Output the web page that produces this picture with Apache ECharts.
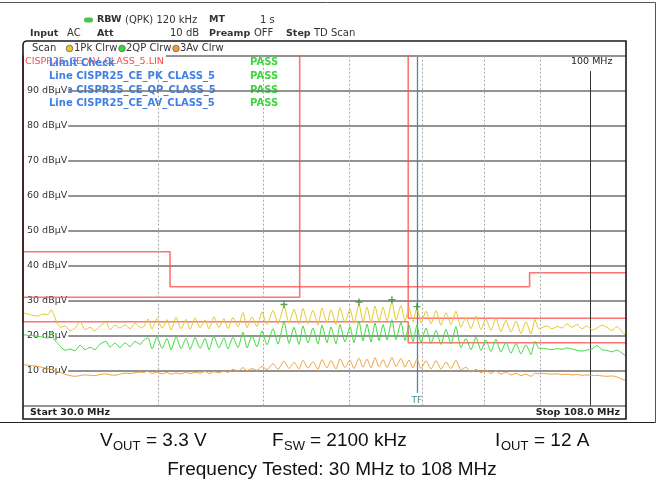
<!DOCTYPE html>
<html><head><meta charset="utf-8">
<script src="https://cdn.jsdelivr.net/npm/echarts@6/dist/echarts.min.js"></script>
<style>html,body{margin:0;padding:0;background:#fff}#c{width:660px;height:486px}</style>
</head><body><div id="c"></div>
<script>
// ---- data (MHz / dBµV) ----
const freqMHz = [30.00,30.32,30.64,30.97,31.30,31.64,31.84,32.04,32.25,32.52,32.80,33.15,33.51,33.87,34.23,34.59,34.95,35.33,35.78,36.09,36.47,36.86,37.26,37.66,38.06,38.47,
38.71,39.13,39.46,39.88,40.31,40.74,41.09,41.53,41.97,42.42,42.78,43.24,43.70,44.17,44.54,45.00,45.49,45.97,46.36,46.86,47.36,47.87,48.28,48.79,49.31,49.84,50.37,51.02,51.57,52.23,52.79,53.35,53.92,54.38,54.96,55.54,56.14,56.62,57.22,57.71,58.33,58.83,59.45,60.09,60.60,61.25,61.77,62.30,62.83,63.37,63.91,64.46,65.01,65.69,66.25,66.96,67.53,68.11,68.69,69.27,69.87,70.61,71.37,72.13,72.90,73.68,74.47,75.25,76.05,76.86,77.69,78.52,79.36,80.20,81.06,81.93,82.80,83.69,84.58,85.49,86.40,87.32,88.26,89.01,89.77,
90.54,91.31,92.29,93.27,94.27,95.27,96.29,97.31,98.36,99.41,100.47,101.54,102.63,103.72,104.83,105.95,107.09,108.00];
const pk1 = [26.5,26.2,25.8,25.6,26.2,26.0,27.4,26.0,23.6,22.4,22.8,21.4,22.2,24.1,21.7,22.4,21.4,22.7,23.9,21.7,23.0,22.2,23.1,22.0,23.6,22.4,
22.4,24.8,21.9,25.0,22.1,24.6,21.7,25.3,22.0,24.7,21.8,25.1,22.2,24.5,21.9,25.4,22.3,24.9,22.0,25.2,22.5,26.6,22.3,25.3,22.6,26.8,23.2,27.2,23.4,28.4,23.6,27.5,23.3,27.8,23.5,27.3,23.1,27.9,23.6,27.4,23.2,28.0,23.8,27.6,23.5,29.0,24.0,28.2,23.7,28.5,24.1,28.1,24.3,29.7,24.5,28.6,24.2,28.0,24.0,28.0,23.6,27.0,23.4,27.2,23.0,26.6,23.2,27.0,22.4,25.2,22.0,25.6,21.8,24.8,21.5,25.0,21.2,24.4,21.0,24.2,20.6,24.0,20.5,24.6,21.9,
22.4,22.8,22.0,22.6,22.2,23.4,22.4,23.2,22.0,22.8,21.6,22.2,23.0,22.4,21.5,22.6,21.2,20.0];
const qp2 = [20.3,20.1,20.0,19.8,19.6,19.3,21.3,19.0,18.0,16.8,15.8,16.2,15.7,17.3,16.0,16.7,16.0,17.6,18.4,16.7,17.9,16.6,18.0,16.9,18.4,17.5,
18.5,19.4,16.2,19.6,16.4,19.2,16.0,19.7,16.3,19.3,16.1,19.5,16.4,19.2,16.0,19.8,16.5,19.4,16.2,19.6,16.6,21.0,16.5,19.9,16.8,21.4,17.4,22.0,17.6,24.0,17.8,22.4,17.5,22.8,17.9,22.2,17.6,23.0,18.0,22.5,17.7,23.2,18.2,22.6,18.0,24.2,18.5,23.3,18.2,23.6,18.6,23.2,18.8,24.6,18.9,23.8,18.6,23.1,18.3,23.0,18.0,22.2,17.8,21.5,17.5,21.8,17.6,22.6,16.6,19.2,16.0,19.6,15.8,18.8,15.5,19.0,15.3,18.2,15.0,17.8,14.8,17.4,14.6,18.4,16.4,
16.4,16.2,16.0,16.3,16.1,16.5,16.2,15.8,15.6,15.9,16.2,17.2,16.0,15.8,15.4,15.9,15.0,14.1];
const av3 = [11.7,11.6,11.4,11.2,10.9,10.6,10.4,10.1,9.8,9.4,9.0,8.6,8.4,8.6,8.8,8.7,8.6,8.9,9.1,8.8,8.7,9.0,9.3,9.2,9.4,9.6,
9.5,9.8,9.2,9.6,9.1,9.5,9.0,9.4,9.1,9.6,9.2,9.5,9.3,9.8,9.2,9.7,9.4,9.9,9.5,10.4,9.8,10.9,10.0,10.6,10.1,11.2,10.3,12.0,10.4,12.8,10.6,12.4,10.5,13.0,10.7,12.6,10.4,13.2,10.8,12.9,10.5,13.4,10.9,13.0,10.6,13.6,11.0,13.3,10.8,13.7,11.1,13.2,10.9,13.8,11.2,13.5,11.0,13.1,10.8,13.3,10.6,12.8,10.5,12.9,10.4,12.5,10.6,13.0,10.2,11.0,9.6,10.4,9.4,10.2,9.2,9.9,9.0,9.6,8.8,9.2,8.6,9.0,8.4,9.3,9.1,
9.2,9.1,9.0,9.1,8.9,9.0,8.8,8.9,8.7,8.8,8.6,8.7,8.5,8.4,8.5,8.2,7.6,7.1];
// limit lines [MHz, dBµV]
const limitPk = [[30,100],[30,44],[41,44],[41,34],[88,34],[88,38],[108,38]];
const limitQpA = [[30,100],[30,31],[54,31],[54,100]];
const limitQpB = [[68,100],[68,25],[108,25]];
const limitAv = [[30,100],[30,24],[68,24],[68,18],[108,18]];
// peak markers
const markerFreq = [52.23, 61.25, 65.69, 69.27];
const markerLevel = [28.9, 29.6, 30.3, 28.3];
// frequency grid / markers
const gridFreqs = [40, 50, 60, 70, 80, 90];
const refFreq = 100;
const tfFreq = 69.27;
const yMin = 0, yMax = 100, yStep = 10;

const FONT = 'DejaVu Sans';
const chart = echarts.init(document.getElementById('c'), null, {renderer: 'canvas'});

function txt(text, x, y, opt) {
  opt = opt || {};
  return {
    type: 'text', z: opt.z || 1, silent: true,
    style: {
      text: text, x: x, y: y,
      font: (opt.bold ? 'bold ' : '') + (opt.size || 10) + 'px "' + (opt.family || FONT) + '"',
      fill: opt.color || '#333',
      align: opt.align || 'left', textAlign: opt.align || 'left',
      verticalAlign: 'middle', textVerticalAlign: 'middle',
      backgroundColor: opt.bg, padding: opt.pad
    }
  };
}

const limitStyle = {color: 'rgba(255,80,80,0.8)', width: 1.6};
function limitSeries(d) {
  return {type: 'line', data: d, symbol: 'none', z: 4, silent: true, lineStyle: limitStyle, animation: false};
}
function trace(vals, color) {
  return {type: 'line', data: freqMHz.map((f, i) => [f, vals[i]]), symbol: 'none', z: 5, silent: true,
          smooth: 0.2, lineStyle: {color: color, width: 1}, animation: false};
}

const BLUE = '#3f7fe6', PASS = '#3ad83a', RED = '#ff4848';

const graphics = [
  // outer frame
  {type: 'line', shape: {x1: 0, y1: 2.5, x2: 655.5, y2: 2.5}, style: {stroke: '#555', lineWidth: 1}, z: 1},
  {type: 'line', shape: {x1: 655.5, y1: 2.5, x2: 655.5, y2: 422.5}, style: {stroke: '#555', lineWidth: 1}, z: 1},
  {type: 'line', shape: {x1: 0, y1: 422.5, x2: 655.5, y2: 422.5}, style: {stroke: '#222', lineWidth: 1.2}, z: 1},
  // header
  {type: 'rect', shape: {x: 84, y: 17.5, width: 9, height: 5, r: 2.5}, style: {fill: '#4cc04c'}, z: 1},
  txt('RBW', 97, 20, {bold: true, size: 9.5}), txt('(QPK) 120 kHz', 125, 20),
  txt('MT', 209, 20, {bold: true, size: 9.5}), txt('1 s', 260, 20),
  txt('Input', 30, 33.5, {bold: true, size: 9.5}), txt('AC', 67, 33.5),
  txt('Att', 97, 33.5, {bold: true, size: 9.5}), txt('10 dB', 170, 33.5),
  txt('Preamp', 209, 33.5, {bold: true, size: 9.5}), txt('OFF', 254, 33.5),
  txt('Step', 286, 33.5, {bold: true, size: 9.5}), txt('TD Scan', 314, 33.5),
  // scan row
  txt('Scan', 32, 48.5),
  {type: 'circle', shape: {cx: 69.5, cy: 48.5, r: 3.3}, style: {fill: '#e8c42a', stroke: '#666', lineWidth: 0.8}, z: 1},
  txt('1Pk Clrw', 74, 48.5),
  {type: 'circle', shape: {cx: 122, cy: 48.5, r: 3.3}, style: {fill: '#3ed43e', stroke: '#666', lineWidth: 0.8}, z: 1},
  txt('2QP Clrw', 126, 48.5),
  {type: 'circle', shape: {cx: 176, cy: 48.5, r: 3.3}, style: {fill: '#f09a30', stroke: '#666', lineWidth: 0.8}, z: 1},
  txt('3Av Clrw', 180, 48.5),
  // limit check block
  txt('CISPR25_CE_AV_CLASS_5.LIN', 24, 62, {color: RED, size: 9.5, z: 6, bg: '#fff', pad: [2, 2, 2, 1]}),
  txt('Limit Check', 49, 63, {color: BLUE, bold: true, z: 7}),
  txt('PASS', 250, 62.5, {color: PASS, bold: true}),
  txt('Line CISPR25_CE_PK_CLASS_5', 49, 76, {color: BLUE, bold: true}),
  txt('PASS', 250, 76, {color: PASS, bold: true}),
  txt('Line CISPR25_CE_QP_CLASS_5', 49, 90, {color: BLUE, bold: true}),
  txt('PASS', 250, 90, {color: PASS, bold: true}),
  txt('Line CISPR25_CE_AV_CLASS_5', 49, 103.5, {color: BLUE, bold: true}),
  txt('PASS', 250, 103.5, {color: PASS, bold: true}),
  txt('100 MHz', 571, 62, {size: 9.5, color: '#222', z: 6}),
  // start/stop
  txt('Start 30.0 MHz', 30, 413, {bold: true, size: 9.5, color: '#222', z: 6}),
  txt('Stop 108.0 MHz', 620, 413, {bold: true, size: 9.5, color: '#222', align: 'right', z: 6}),
  // plot box
  {type: 'rect', shape: {x: 23, y: 41, width: 603, height: 378, r: [4, 0, 0, 0]},
   style: {fill: 'rgba(0,0,0,0)', stroke: '#1a1a1a', lineWidth: 1.6}, z: 8, silent: true},
  // caption
  txt('V', 100, 441, {family: 'Liberation Sans', size: 19, color: '#111'}),
  txt('OUT', 113, 446, {family: 'Liberation Sans', size: 13, color: '#111'}),
  txt('= 3.3 V', 146, 441, {family: 'Liberation Sans', size: 19, color: '#111'}),
  txt('F', 272, 441, {family: 'Liberation Sans', size: 19, color: '#111'}),
  txt('SW', 284, 446, {family: 'Liberation Sans', size: 13, color: '#111'}),
  txt('= 2100 kHz', 310, 441, {family: 'Liberation Sans', size: 19, color: '#111'}),
  txt('I', 495, 441, {family: 'Liberation Sans', size: 19, color: '#111'}),
  txt('OUT', 501, 446, {family: 'Liberation Sans', size: 13, color: '#111'}),
  txt('= 12 A', 534, 441, {family: 'Liberation Sans', size: 19, color: '#111'}),
  txt('Frequency Tested: 30 MHz to 108 MHz', 332, 470, {family: 'Liberation Sans', size: 19, color: '#111', align: 'center'})
];

const option = {
  animation: false,
  backgroundColor: '#fff',
  grid: {left: 23, right: 34, top: 55.7, bottom: 80.3},
  xAxis: {type: 'log', logBase: 10, min: 30, max: 108,
    axisLine: {show: false}, axisTick: {show: false}, axisLabel: {show: false},
    splitLine: {show: false}, minorTick: {show: false}, minorSplitLine: {show: false}},
  yAxis: {type: 'value', min: yMin, max: yMax, interval: yStep, z: 3,
    axisLine: {show: false}, axisTick: {show: false},
    axisLabel: {inside: true, margin: 0, fontFamily: FONT, fontSize: 9.5, color: '#333',
      backgroundColor: '#fff', padding: [1, 1, 1, 4], showMinLabel: false, showMaxLabel: false,
      formatter: v => v + ' dBµV'},
    splitLine: {lineStyle: {color: '#6f6f6f', width: 1.5}}},
  series: [
    {type: 'line', data: [], silent: true, z: 2,
     markLine: {silent: true, symbol: 'none', label: {show: false}, animation: false,
       lineStyle: {color: '#a8a8a8', type: [2, 2], width: 1},
       data: gridFreqs.map(f => ({xAxis: f}))}},
    {type: 'line', data: [], silent: true, z: 4,
     markLine: {silent: true, symbol: 'none', label: {show: false}, animation: false,
       lineStyle: {color: '#333', type: 'solid', width: 1},
       data: [[{coord: [refFreq, 95.6]}, {coord: [refFreq, 0]}]]}},
    limitSeries(limitPk), limitSeries(limitQpA), limitSeries(limitQpB), limitSeries(limitAv),
    trace(av3, '#f0a23a'), trace(qp2, '#3fdc3f'), trace(pk1, '#e6c92c'),
    {type: 'line', data: [], silent: true, z: 6,
     markLine: {silent: true, symbol: 'none', animation: false,
       lineStyle: {color: '#4d8a9a', type: 'solid', width: 1.3},
       label: {show: true, position: 'end', formatter: 'TF', color: '#4d8a9a', fontSize: 9, fontFamily: FONT, distance: 3},
       data: [[{coord: [tfFreq, 99.6]}, {coord: [tfFreq, 3.6]}]]}},
    {type: 'scatter', z: 7, silent: true, symbol: 'path://M2,0H3V2H5V3H3V5H2V3H0V2H2Z', symbolSize: 7,
     itemStyle: {color: '#2f8a2f'}, data: markerFreq.map((f, i) => [f, markerLevel[i]])}
  ],
  graphic: graphics
};
chart.setOption(option);
</script></body></html>
